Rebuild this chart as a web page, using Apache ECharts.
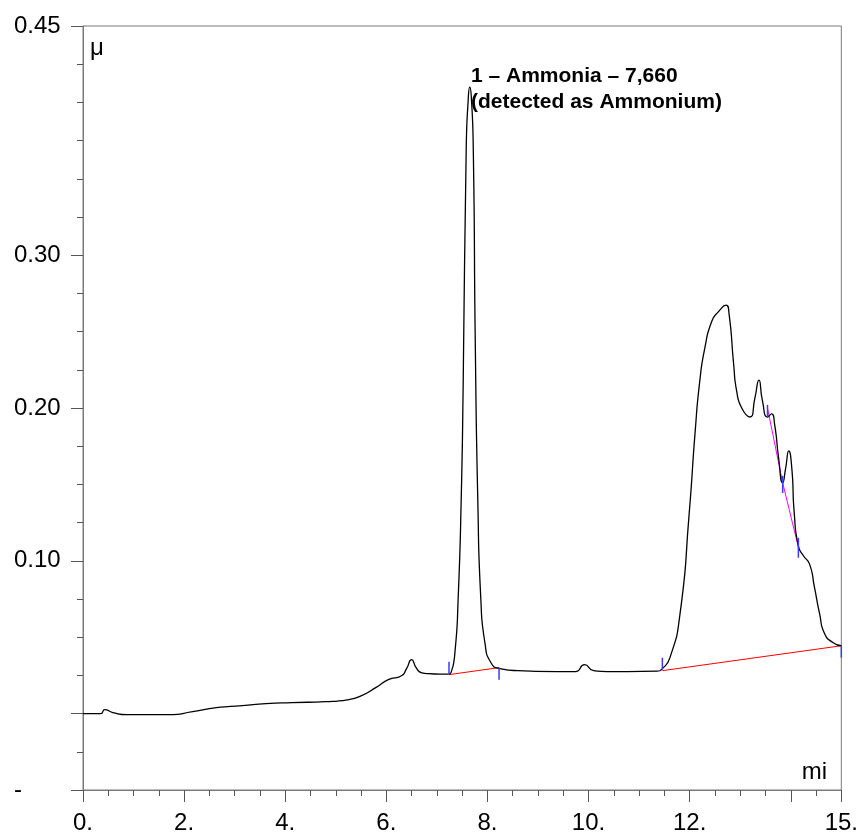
<!DOCTYPE html>
<html>
<head>
<meta charset="utf-8">
<script src="https://cdn.jsdelivr.net/npm/echarts@6/dist/echarts.min.js"></script>
<style>
html,body{margin:0;padding:0;background:#fff;}
#chart{width:861px;height:836px;}
</style>
</head>
<body>
<div id="chart"></div>
<script>
// Retention time (min) and detector signal (µS)
const times = [0.00,0.35,0.43,0.59,0.87,1.71,2.17,2.64,3.15,3.62,4.13,4.80,5.26,5.51,5.79,6.04,6.30,6.40,6.50,6.59,6.69,6.83,7.22,7.28,7.36,7.42,7.48,7.52,7.58,7.62,7.65,7.68,7.72,7.76,7.81,7.87,7.95,8.07,8.25,8.60,9.39,9.74,9.92,10.10,10.37,11.36,11.46,11.61,11.81,11.99,12.11,12.20,12.30,12.44,12.58,12.72,12.78,12.87,12.93,13.03,13.19,13.29,13.37,13.44,13.54,13.62,13.68,13.76,13.84,13.90,13.96,14.02,14.07,14.15,14.25,14.37,14.47,14.57,14.67,14.84,15.00];
const signal = [0.0000,0.0000,0.0026,0.0007,-0.0007,-0.0007,0.0013,0.0039,0.0052,0.0065,0.0072,0.0078,0.0092,0.0118,0.0170,0.0222,0.0248,0.0294,0.0353,0.0301,0.0268,0.0261,0.0258,0.0268,0.0412,0.0745,0.1386,0.2150,0.3693,0.4020,0.4100,0.4040,0.3693,0.2412,0.1386,0.0745,0.0464,0.0333,0.0294,0.0281,0.0275,0.0275,0.0320,0.0281,0.0275,0.0278,0.0294,0.0366,0.0654,0.1307,0.1850,0.2176,0.2392,0.2569,0.2634,0.2673,0.2614,0.2288,0.2111,0.2000,0.1941,0.2065,0.2183,0.2046,0.1941,0.1961,0.1895,0.1673,0.1510,0.1608,0.1719,0.1608,0.1307,0.1098,0.1033,0.0980,0.0824,0.0654,0.0523,0.0464,0.0444];

// Integration baselines
const baseline1Times = [7.24, 8.23];
const baseline1Values = [0.0255, 0.0301];
const baseline2Times = [11.46, 15.00];
const baseline2Values = [0.0281, 0.0444];
// Drop (tangent skim) line
const skimTimes = [13.54, 13.84, 14.15];
const skimValues = [0.200, 0.151, 0.109];
// Peak start/end markers
const markerTimes = [7.24, 8.23, 11.46, 13.54, 13.84, 14.15, 15.00];
const markerLow  = [0.0261, 0.0222, 0.0288, 0.194, 0.1444, 0.102, 0.0366];
const markerHigh = [0.0340, 0.0301, 0.0366, 0.202, 0.1556, 0.115, 0.0444];

// Axis ticks / labels
const xMajorTicks = [0,2,4,6,8,10,12,14,15];
const xTickLabels = [0,2,4,6,8,10,12,15];
const yMajorTicks = [-0.05,0,0.10,0.20,0.30,0.45];
const yTickLabels = [-0.05,0.10,0.20,0.30,0.45];

const peakLabelLines = ['1 – Ammonia – 7,660', '(detected as Ammonium)'];

const FONT = "'Liberation Sans', Arial, Helvetica, sans-serif";
const AXIS_COLOR = '#7a7a7a';

const chart = echarts.init(document.getElementById('chart'), null, {renderer: 'canvas'});

const zip = (a, b) => a.map((t, i) => [t, b[i]]);

const option = {
  animation: false,
  backgroundColor: '#ffffff',
  grid: {left: 83, right: 16, top: 26, bottom: 46, show: true, borderColor: AXIS_COLOR, borderWidth: 1, backgroundColor: 'transparent'},
  xAxis: [
    {
      type: 'value', min: 0, max: 15, interval: 0.5, position: 'bottom',
      axisLine: {show: true, onZero: false, lineStyle: {color: AXIS_COLOR, width: 1}},
      axisTick: {show: true, length: 6, lineStyle: {color: '#555'}},
      axisLabel: {show: false},
      splitLine: {show: false}
    },
    {
      type: 'value', min: 0, max: 15, position: 'bottom',
      axisLine: {show: false, onZero: false},
      axisTick: {show: true, length: 12, customValues: xMajorTicks, lineStyle: {color: '#555'}},
      axisLabel: {
        show: true, customValues: xTickLabels, margin: 21,
        color: '#000', fontFamily: FONT, fontSize: 24,
        formatter: v => String(Math.round(v)) + '.'
      },
      splitLine: {show: false}
    }
  ],
  yAxis: [
    {
      type: 'value', min: -0.05, max: 0.45, interval: 0.025, position: 'left',
      axisLine: {show: true, onZero: false, lineStyle: {color: AXIS_COLOR, width: 1}},
      axisTick: {show: true, length: 6, lineStyle: {color: '#555'}},
      axisLabel: {show: false},
      splitLine: {show: false}
    },
    {
      type: 'value', min: -0.05, max: 0.45, position: 'left',
      axisLine: {show: false, onZero: false},
      axisTick: {show: true, length: 12, customValues: yMajorTicks, lineStyle: {color: '#555'}},
      axisLabel: {
        show: true, customValues: yTickLabels, margin: 69, align: 'left',
        color: '#000', fontFamily: FONT, fontSize: 24,
        formatter: v => (v < 0 ? '-' : v.toFixed(2))
      },
      splitLine: {show: false}
    }
  ],
  graphic: [
    {type: 'text', left: 90, top: 36, style: {text: 'μ', font: '24px ' + FONT, fill: '#000'}},
    {type: 'text', right: 34, top: 760, style: {text: 'mi', font: '24px ' + FONT, fill: '#000'}},
    {type: 'text', left: 471, top: 63, style: {text: peakLabelLines.join('\n'), font: 'bold 21px ' + FONT, fill: '#000', lineHeight: 26}}
  ],
  series: [
    {
      name: 'signal', type: 'line', xAxisIndex: 0, yAxisIndex: 0,
      data: zip(times, signal), showSymbol: false, smooth: 0.6,
      lineStyle: {color: '#000', width: 1.3}, z: 5
    },
    {
      type: 'line', xAxisIndex: 0, yAxisIndex: 0, data: zip(baseline1Times, baseline1Values),
      showSymbol: false, lineStyle: {color: '#ff0000', width: 1}, z: 4
    },
    {
      type: 'line', xAxisIndex: 0, yAxisIndex: 0, data: zip(baseline2Times, baseline2Values),
      showSymbol: false, lineStyle: {color: '#ff0000', width: 1}, z: 4
    },
    {
      type: 'line', xAxisIndex: 0, yAxisIndex: 0, data: zip(skimTimes, skimValues),
      showSymbol: false, lineStyle: {color: '#ff00ff', width: 1}, z: 4
    },
    {
      type: 'custom', xAxisIndex: 0, yAxisIndex: 0, z: 6,
      data: markerTimes.map((t, i) => [t, markerLow[i], markerHigh[i]]),
      renderItem: (params, api) => {
        const p1 = api.coord([api.value(0), api.value(1)]);
        const p2 = api.coord([api.value(0), api.value(2)]);
        return {type: 'line', shape: {x1: p1[0], y1: p1[1], x2: p2[0], y2: p2[1]}, style: {stroke: '#3b3bff', lineWidth: 1.5}};
      }
    }
  ]
};
chart.setOption(option);
</script>
</body>
</html>
